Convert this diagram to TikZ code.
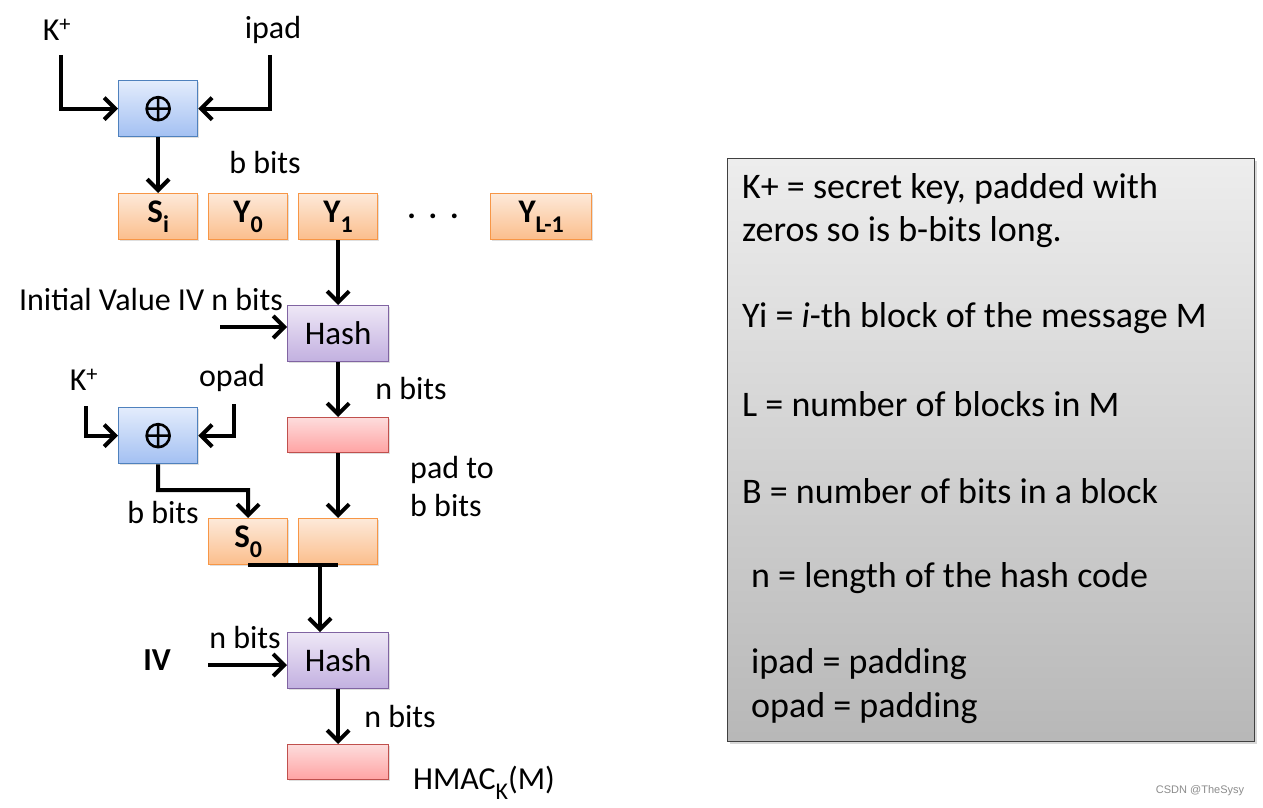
\documentclass[tikz,border=0pt]{standalone}
\usepackage{fontspec}
\setmainfont{Carlito}
\newfontfamily\wmfont{Liberation Sans}
\usetikzlibrary{arrows.meta,shadows}
\definecolor{xorbd}{HTML}{4F81BD}
\definecolor{xortop}{HTML}{E3ECFC}
\definecolor{xorbot}{HTML}{A3C0F2}
\definecolor{hashbd}{HTML}{8064A2}
\definecolor{hashtop}{HTML}{EEE7F6}
\definecolor{hashbot}{HTML}{C2B0E0}
\definecolor{redbd}{HTML}{C0504D}
\definecolor{redtop}{HTML}{FDDCDC}
\definecolor{redbot}{HTML}{FFA3A3}
\definecolor{orbd}{HTML}{F79646}
\definecolor{ortop}{HTML}{FDE9D9}
\definecolor{orbot}{HTML}{FBBE8C}
\newcommand{\sbs}[1]{\raisebox{-0.3em}{\fontsize{24}{24}\selectfont #1}}
\begin{document}
\begin{tikzpicture}[x=1pt,y=-1pt,
  boxbase/.style={anchor=north west,inner sep=0pt,line width=1.3pt,
    drop shadow={shadow xshift=1.5pt,shadow yshift=-1.5pt,opacity=0.25}},
  xorbox/.style={boxbase,draw=xorbd,top color=xortop,bottom color=xorbot,minimum width=79pt,minimum height=56pt},
  hashbox/.style={boxbase,draw=hashbd,top color=hashtop,bottom color=hashbot,minimum width=101pt,minimum height=56pt,font=\fontsize{33}{36}\selectfont},
  redbox/.style={boxbase,draw=redbd,top color=redtop,bottom color=redbot,minimum width=101pt,minimum height=35pt},
  blk/.style={boxbase,draw=orbd,top color=ortop,bottom color=orbot,minimum width=79pt,minimum height=46pt,font=\fontsize{33}{36}\selectfont\bfseries},
  lbl/.style={font=\fontsize{32}{38}\selectfont,inner sep=0pt},
  rtxt/.style={font=\fontsize{36}{40}\selectfont,inner sep=0pt,anchor=west},
  conn/.style={line width=4pt,-{Straight Barb[length=11pt,width=22pt,line width=4pt]}},
  wire/.style={line width=4pt},
  oplus/.style={line width=2.6pt}]
\useasboundingbox (0,0) rectangle (1263,808);
\fill[white] (0,0) rectangle (1263,808);

% top XOR
\node[xorbox] (x1) at (118,80) {};
\draw[oplus] (x1.center) circle (11.5pt) ++(-11.5,0) -- ++(23,0) (x1.center) ++(0,-11.5) -- ++(0,23);
\node[lbl] (k1) at (57,30) {K\textsuperscript{+}};
\node[lbl] (ip) at (273,30) {ipad};
\coordinate (k1a) at (61,55);
\coordinate (ipa) at (270,55);
\draw[conn] (k1a) |- (x1.west);
\draw[conn] (ipa) |- (x1.east);
\node[lbl] (bb1) at (265,163) {b bits};

% top row
\node[blk] (si) at (118,193) {S\sbs{i}};
\node[blk] (y0) at (208,193) {Y\sbs{0}};
\node[blk] (y1) at (298,193) {Y\sbs{1}};
\node[font=\fontsize{32}{32}\selectfont\bfseries,inner sep=0pt] (dots) at (433,216) {.\hspace{0.4em}.\hspace{0.4em}.};
\node[blk,minimum width=101pt] (yl) at (490,193) {Y\sbs{L-1}};
\draw[conn] (x1.south) -- (si.north);

% first hash
\node[hashbox] (h1) at (287,305) {Hash};
\draw[conn] (y1.south) -- (h1.north);
\node[lbl] (ivl) at (151,300) {Initial Value IV n bits};
\coordinate (iva) at (220,327);
\draw[conn] (iva) -- (h1.west |- iva);
\node[redbox] (r1) at (287,417) {};
\draw[conn] (h1.south) -- (r1.north);
\node[lbl] (nb1) at (411,389) {n bits};
\node[lbl,align=left,anchor=north west] (pad) at (410,456) {pad to\\b bits};

% second XOR
\node[xorbox] (x2) at (118,407) {};
\draw[oplus] (x2.center) circle (11.5pt) ++(-11.5,0) -- ++(23,0) (x2.center) ++(0,-11.5) -- ++(0,23);
\node[lbl] (k2) at (84,380) {K\textsuperscript{+}};
\node[lbl] (op) at (232,378) {opad};
\coordinate (k2a) at (86,406);
\coordinate (opa) at (234,404);
\draw[conn] (k2a) |- (x2.west);
\draw[conn] (opa) |- (x2.east);
\node[lbl] (bb2) at (163,513) {b bits};

% second row
\node[blk] (s0) at (208,518) {S\sbs{0}};
\node[blk] (e0) at (298,518) {};
\coordinate (bend) at (158,490);
\draw[conn] (x2.south) -- (bend) -| (s0.north);
\draw[conn] (r1.south) -- (e0.north);

% join
\coordinate (jl) at (248,565);
\coordinate (jr) at (338,565);
\coordinate (jm) at (320,565);
\draw[wire] (jl) -- (jr);

% second hash
\node[hashbox] (h2) at (287,632) {Hash};
\draw[conn] (jm) -- (h2.north -| jm);
\node[lbl,font=\fontsize{32}{38}\selectfont\bfseries] (iv2) at (157,660) {IV};
\node[lbl] (nb2) at (245,637) {n bits};
\coordinate (iv2a) at (208,665);
\draw[conn] (iv2a) -- (h2.west |- iv2a);
\node[redbox] (r2) at (287,744) {};
\draw[conn] (h2.south) -- (r2.north);
\node[lbl] (nb3) at (400,716) {n bits};
\node[lbl] (hm) at (484,783) {HMAC\sbs{K}(M)};

% legend box
\node[anchor=north west,inner sep=0pt,minimum width=527pt,minimum height=583pt,
  draw=black!75,line width=1.3pt,top color=black!7,bottom color=black!28,
  drop shadow={shadow xshift=2pt,shadow yshift=-2pt,opacity=0.3}] (leg) at (727,158) {};
\node[rtxt] (t1) at (742,189) {K+ = secret key, padded with};
\node[rtxt] (t2) at (742,232) {zeros so is b-bits long.};
\node[rtxt] (t3) at (742,318) {Yi = \textit{i}-th block of the message M};
\node[rtxt] (t4) at (742,404) {L = number of blocks in M};
\node[rtxt] (t5) at (742,491) {B = number of bits in a block};
\node[rtxt] (t6) at (751,578) {n = length of the hash code};
\node[rtxt] (t7) at (751,664) {ipad = padding};
\node[rtxt] (t8) at (751,708) {opad = padding};

\node[font=\fontsize{11}{12}\selectfont\wmfont,text=black!45,inner sep=0pt] (wm) at (1200,791) {CSDN @TheSysy};
\end{tikzpicture}
\end{document}
